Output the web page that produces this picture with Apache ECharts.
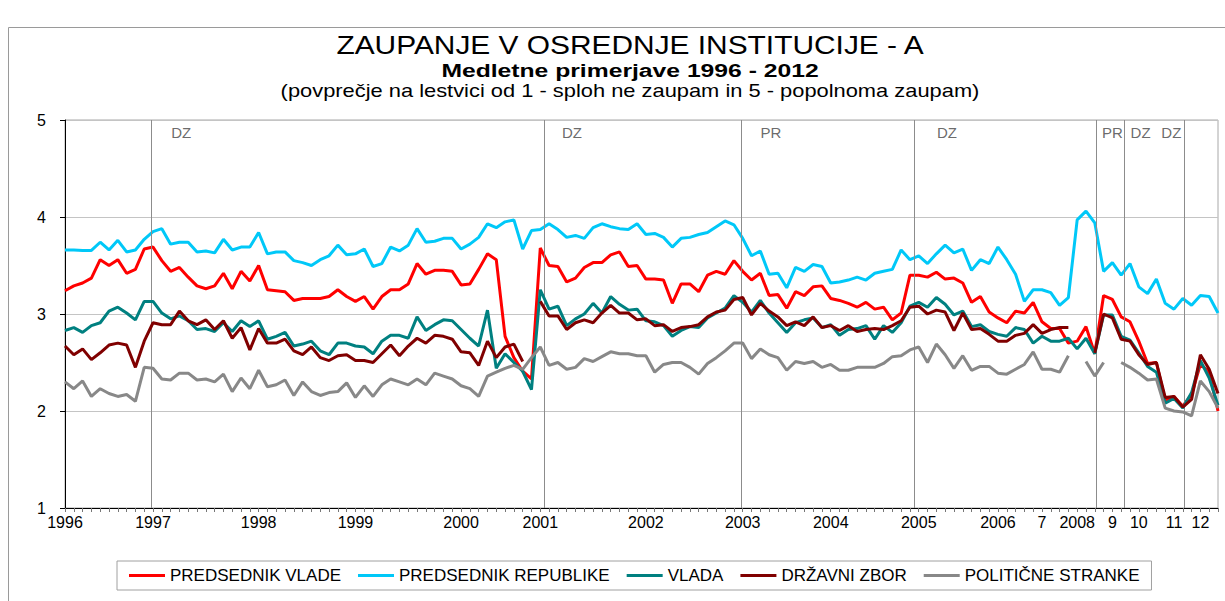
<!DOCTYPE html>
<html><head><meta charset="utf-8">
<script src="https://cdn.jsdelivr.net/npm/echarts@6/dist/echarts.min.js"></script>
<style>html,body{margin:0;padding:0;background:#fff;}#c{width:1225px;height:601px;}</style>
</head><body><div id="c"></div>
<script>
// ---- data (one value per survey wave, 1996 - 2012) ----
const predsednikVlade = [
3.24,3.29,3.32,3.37,3.56,3.50,3.56,3.42,3.46,3.67,3.69,3.55,3.44,3.48,3.38,3.29,3.26,3.29,3.42,3.26,3.44,
3.34,3.50,3.25,3.24,3.23,3.14,3.16,3.16,3.16,3.18,3.25,3.18,3.13,3.18,3.05,3.18,3.25,3.25,3.31,3.52,3.41,
3.45,3.45,3.44,3.30,3.31,3.46,3.62,3.56,2.77,2.55,2.41,2.33,3.68,3.50,3.49,3.33,3.37,3.48,3.53,3.53,3.61,3.64,
3.49,3.50,3.36,3.36,3.35,3.11,3.31,3.31,3.23,3.40,3.44,3.41,3.55,3.44,3.35,3.42,3.19,3.20,3.06,3.23,3.19,
3.28,3.29,3.16,3.14,3.11,3.07,3.12,3.05,3.07,2.94,3.01,3.40,3.40,3.38,3.43,3.36,3.37,3.32,3.12,3.18,3.02,2.96,
2.91,3.03,3.01,3.12,2.92,2.85,2.85,2.70,2.72,2.87,2.59,3.19,3.15,2.97,2.92,2.72,2.49,2.50,2.11,2.15,2.05,2.17,2.48,2.40,2.00];
const predsednikRepublike = [
3.66,3.66,3.655,3.655,3.74,3.66,3.76,3.64,3.66,3.77,3.85,3.88,3.72,3.74,3.74,3.64,3.65,3.63,3.77,3.66,3.69,
3.69,3.84,3.62,3.64,3.64,3.55,3.53,3.50,3.56,3.60,3.71,3.61,3.62,3.67,3.49,3.52,3.69,3.65,3.71,3.88,3.74,
3.75,3.78,3.78,3.67,3.72,3.79,3.93,3.89,3.95,3.97,3.67,3.86,3.87,3.93,3.87,3.79,3.81,3.78,3.89,3.93,3.90,3.88,
3.87,3.93,3.82,3.83,3.79,3.69,3.78,3.79,3.82,3.84,3.90,3.96,3.92,3.78,3.60,3.65,3.41,3.42,3.27,3.48,3.44,
3.51,3.49,3.32,3.33,3.35,3.38,3.35,3.42,3.44,3.46,3.66,3.56,3.60,3.52,3.62,3.71,3.63,3.67,3.45,3.56,3.52,3.69,
3.56,3.41,3.13,3.25,3.25,3.22,3.09,3.17,3.97,4.06,3.94,3.44,3.53,3.40,3.52,3.28,3.21,3.36,3.11,3.05,3.16,3.09,3.19,3.18,3.01];
const vlada = [
2.83,2.86,2.81,2.88,2.91,3.03,3.07,3.01,2.94,3.13,3.13,3.01,2.95,2.98,2.93,2.84,2.85,2.82,2.91,2.82,2.93,
2.87,2.93,2.74,2.77,2.81,2.67,2.69,2.72,2.62,2.58,2.70,2.70,2.67,2.66,2.59,2.72,2.78,2.78,2.75,2.97,2.83,
2.89,2.94,2.93,2.84,2.75,2.67,3.04,2.44,2.59,2.50,2.41,2.22,3.25,3.05,3.08,2.88,2.95,3.00,3.11,3.01,3.18,3.10,
3.04,3.05,2.93,2.92,2.88,2.77,2.83,2.87,2.86,2.96,3.01,3.06,3.19,3.12,3.02,3.14,3.01,2.91,2.81,2.91,2.94,
2.96,2.86,2.89,2.78,2.84,2.85,2.88,2.74,2.88,2.81,2.91,3.08,3.12,3.07,3.17,3.10,2.99,3.03,2.87,2.89,2.82,2.79,
2.77,2.86,2.84,2.70,2.77,2.72,2.72,2.75,2.64,2.75,2.59,2.99,2.99,2.77,2.73,2.60,2.46,2.40,2.08,2.13,2.03,2.19,2.52,2.34,2.06];
const drzavniZbor = [
2.67,2.58,2.64,2.53,2.60,2.68,2.70,2.68,2.45,2.72,2.91,2.89,2.89,3.03,2.93,2.89,2.94,2.84,2.93,2.75,2.86,
2.63,2.85,2.70,2.70,2.74,2.62,2.58,2.66,2.55,2.52,2.57,2.58,2.52,2.52,2.50,2.59,2.68,2.57,2.67,2.75,2.70,
2.78,2.77,2.74,2.61,2.60,2.47,2.72,2.55,2.66,2.69,2.51,null,3.13,2.98,2.98,2.84,2.91,2.94,2.91,3.01,3.09,3.01,
3.01,2.94,2.95,2.88,2.89,2.82,2.86,2.87,2.89,2.97,3.02,3.04,3.15,3.17,2.99,3.11,3.03,2.97,2.88,2.92,2.88,
2.97,2.86,2.88,2.83,2.88,2.82,2.84,2.85,2.84,2.88,2.93,3.07,3.08,3.00,3.04,3.02,2.83,3.01,2.84,2.85,2.79,2.72,
2.72,2.78,2.80,2.89,2.80,2.84,2.86,2.86,null,null,2.60,3.00,2.96,2.74,2.72,2.58,2.48,2.50,2.14,2.15,2.04,2.12,2.58,2.43,2.18];
const politicneStranke = [
2.30,2.23,2.31,2.15,2.23,2.18,2.15,2.17,2.10,2.45,2.44,2.33,2.32,2.39,2.39,2.32,2.33,2.30,2.38,2.20,2.34,
2.23,2.42,2.25,2.27,2.32,2.16,2.30,2.20,2.16,2.19,2.20,2.29,2.14,2.26,2.15,2.27,2.33,2.30,2.27,2.33,2.27,
2.39,2.36,2.33,2.26,2.23,2.15,2.36,2.40,2.44,2.47,2.43,2.55,2.66,2.47,2.50,2.43,2.45,2.54,2.51,2.56,2.61,2.59,
2.59,2.57,2.57,2.40,2.48,2.50,2.50,2.45,2.38,2.49,2.55,2.62,2.70,2.70,2.54,2.64,2.58,2.55,2.42,2.51,2.49,
2.51,2.45,2.48,2.42,2.42,2.45,2.45,2.45,2.49,2.56,2.57,2.63,2.66,2.50,2.69,2.58,2.44,2.57,2.42,2.46,2.46,2.39,
2.38,2.43,2.48,2.61,2.43,2.43,2.40,2.57,null,2.51,2.36,2.50,null,2.50,2.45,2.39,2.32,2.33,2.03,2.00,1.99,1.95,2.31,2.20,2.03];

const seriesNames = ['PREDSEDNIK VLADE','PREDSEDNIK REPUBLIKE','VLADA','DRŽAVNI ZBOR','POLITIČNE STRANKE'];
const seriesColors = ['#ff0000','#00c8f8','#008080','#800000','#888888'];
// x-axis tick labels: wave index -> label
const tickIndex = [0,10,22,33,45,54,66,77,87,97,106,111,115,119,122,126,129];
const tickText  = ['1996','1997','1998','1999','2000','2001','2002','2003','2004','2005','2006','7','2008','9','10','11','12'];
// election markers (position in wave units) and their labels
const electionLine = [9.8,54.4,76.8,96.5,117.2,120.4,127.2];
const electionLabelPos = [13.2,57.6,80.2,100.2,119.0,122.2,125.7];
const electionLabel = ['DZ','DZ','PR','DZ','PR','DZ','DZ'];
// title lines
const titleLines = ['ZAUPANJE V OSREDNJE INSTITUCIJE - A', 'Medletne primerjave 1996 - 2012',
  '(povprečje na lestvici od 1 - sploh ne zaupam in 5 - popolnoma zaupam)'];

const allData = [predsednikVlade,predsednikRepublike,vlada,drzavniZbor,politicneStranke];
const categories = predsednikVlade.map((_, i) => String(i));
const labelMap = {};
tickIndex.forEach((ix, k) => { labelMap[ix] = tickText[k]; });
const FONT = 'Liberation Sans, Arial, sans-serif';

const chart = echarts.init(document.getElementById('c'), null, {renderer: 'svg'});
const lineSeries = allData.map((d, k) => ({
  name: seriesNames[k], type: 'line', data: d, showSymbol: false, symbol: 'none',
  connectNulls: false, lineStyle: {width: 3, color: seriesColors[k]}, itemStyle: {color: seriesColors[k]},
  z: 3 + k
}));
function titleText(txt, y, size, weight, sx) {
  return {type: 'text', x: 630, y: y, scaleX: sx, silent: true, z: 10,
    style: {text: txt, fontFamily: FONT, fontSize: size, fontWeight: weight, fill: '#000',
      align: 'center', verticalAlign: 'middle'}};
}
chart.setOption({
  animation: false,
  backgroundColor: '#fff',
  graphic: [
    {type: 'rect', silent: true, z: -10, shape: {x: 8.5, y: 27.5, width: 1240, height: 620},
     style: {fill: 'none', stroke: '#9a9a9a', lineWidth: 1}},
    titleText(titleLines[0], 45, 26, 'normal', 1.15),
    titleText(titleLines[1], 70.5, 19, 'bold', 1.3),
    titleText(titleLines[2], 91, 17.5, 'normal', 1.25)
  ],
  legend: {
    data: seriesNames, left: 117, top: 561, orient: 'horizontal',
    itemWidth: 36, itemHeight: 3, icon: 'rect', itemGap: 17,
    padding: [6, 12, 6, 12], borderColor: '#a0a0a0', borderWidth: 1,
    textStyle: {fontFamily: FONT, fontSize: 17, color: '#000'}
  },
  grid: {left: 65, right: 7, top: 120, bottom: 93, show: true, borderColor: '#a8a8a8', borderWidth: 1, containLabel: false},
  xAxis: [
    {type: 'category', data: categories, boundaryGap: false,
     axisLine: {lineStyle: {color: '#000', width: 1}},
     axisTick: {show: true, interval: 0, length: 4, lineStyle: {color: '#777'}},
     axisLabel: {interval: 0, margin: 6, fontFamily: FONT, fontSize: 16, color: '#000',
       formatter: (v, i) => labelMap[i] || ''},
     splitLine: {show: false}},
    {type: 'value', min: 0, max: predsednikVlade.length - 1, show: false}
  ],
  yAxis: {type: 'value', min: 1, max: 5, interval: 1,
    axisLine: {show: true, lineStyle: {color: '#000', width: 1}},
    axisTick: {show: true, length: 5, lineStyle: {color: '#000'}},
    axisLabel: {margin: 19, fontFamily: FONT, fontSize: 16, color: '#000'},
    splitLine: {show: true, lineStyle: {color: '#c4c4c4', width: 1}}},
  series: lineSeries.concat([{
    name: 'volitve', type: 'scatter', xAxisIndex: 1, yAxisIndex: 0, symbolSize: 1,
    itemStyle: {color: 'rgba(0,0,0,0)'}, silent: true, z: 1,
    data: electionLabelPos.map((x, i) => [x, 4.87, electionLabel[i]]),
    label: {show: true, position: 'inside', formatter: p => p.data[2],
      fontFamily: FONT, fontSize: 15, color: '#444'},
    markLine: {symbol: 'none', silent: true, label: {show: false},
      lineStyle: {color: '#8c8c8c', width: 1, type: 'solid'},
      data: electionLine.map(x => ({xAxis: x}))}
  }])
});
</script></body></html>
